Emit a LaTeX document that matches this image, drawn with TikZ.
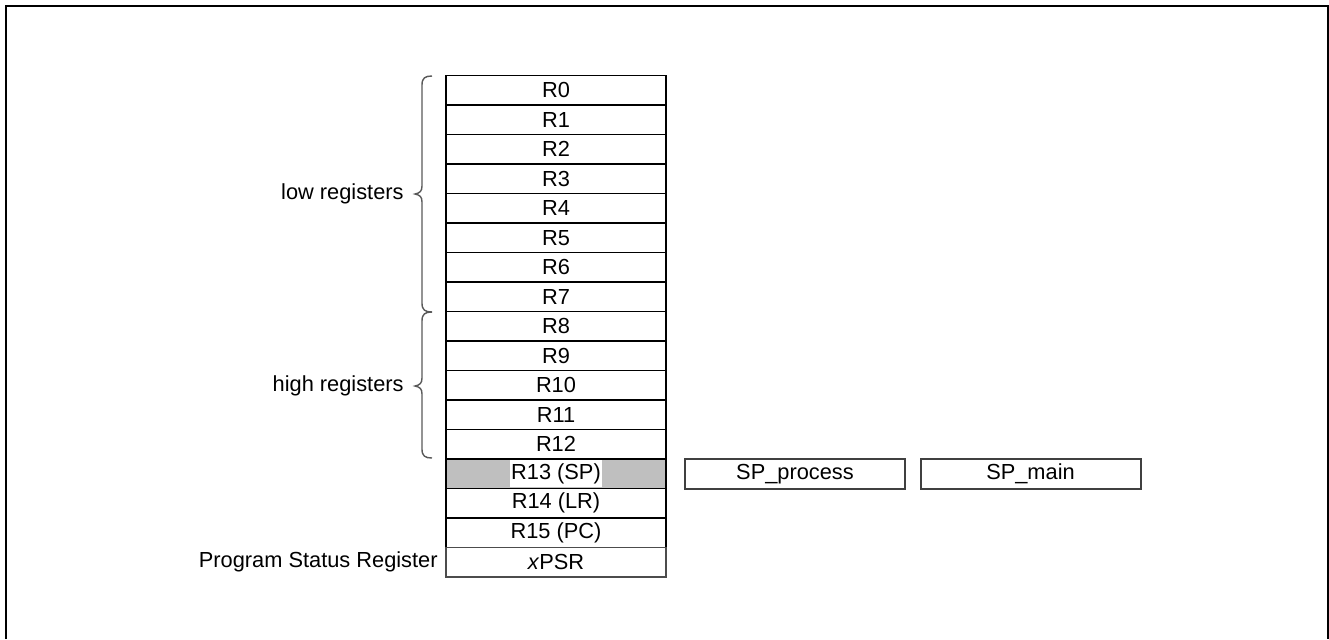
\documentclass[tikz,border=0pt]{standalone}
\usepackage{fontspec}
\setmainfont{Liberation Sans}
\begin{document}
\begin{tikzpicture}[x=0.5pt,y=-0.5pt,
  font=\fontsize{10.9pt}{13pt}\selectfont,
  reg/.style={draw=black, line width=0.75pt, minimum width=110pt, minimum height=14.75pt, inner sep=0pt, outer sep=0pt},
  spbox/.style={draw=black!75, line width=1pt, minimum width=110pt, minimum height=15pt, inner sep=0pt, outer sep=0pt},
  bracestyle/.style={draw=black!65, line width=0.7pt},
  lbl/.style={anchor=east, inner sep=0pt}]
\useasboundingbox (0,0) rectangle (1329,639);
\draw[line width=1pt] (5.5,639) -- (5.5,6) -- (1327.5,6) -- (1327.5,639);
% registers
\node[reg] (r0)  at (556,90.25)  {R0};
\node[reg] (r1)  at (556,119.75) {R1};
\node[reg] (r2)  at (556,149.25) {R2};
\node[reg] (r3)  at (556,178.75) {R3};
\node[reg] (r4)  at (556,208.25) {R4};
\node[reg] (r5)  at (556,237.75) {R5};
\node[reg] (r6)  at (556,267.25) {R6};
\node[reg] (r7)  at (556,296.75) {R7};
\node[reg] (r8)  at (556,326.25) {R8};
\node[reg] (r9)  at (556,355.75) {R9};
\node[reg] (r10) at (556,385.25) {R10};
\node[reg] (r11) at (556,414.75) {R11};
\node[reg] (r12) at (556,444.25) {R12};
\node[reg, fill=black!25] (r13) at (556,473.75) {};
\node[fill=white, inner xsep=0.6pt, inner ysep=0pt, minimum height=13.6pt] (r13t) at (r13.center) {R13 (SP)};
\node[reg] (r14) at (556,503.25) {R14 (LR)};
\node[reg] (r15) at (556,532.75) {R15 (PC)};
\node[reg, draw=black!70] (psr) at (556,562.25) {\textit{x}PSR};
% banked stack pointers
\node[spbox] (spp) at (795,474) {SP\_process};
\node[spbox] (spm) at (1030.5,474) {SP\_main};
% braces
\draw[bracestyle] (432,76) .. controls (425,76) and (422,78) .. (422,85) -- (422,186)
  .. controls (422,191) and (420,193) .. (415,194)
  .. controls (420,195) and (422,197) .. (422,202) -- (422,303)
  .. controls (422,310) and (425,312) .. (432,312);
\draw[bracestyle] (432,312) .. controls (425,312) and (422,314) .. (422,321) -- (422,378)
  .. controls (422,383) and (420,385) .. (415,386)
  .. controls (420,387) and (422,389) .. (422,394) -- (422,449)
  .. controls (422,456) and (425,458) .. (432,458);
% labels
\node[lbl] (lowl) at (404,194) {low registers};
\node[lbl] (highl) at (404,386) {high registers};
\node[lbl] (psrl) at (438,562) {Program Status Register};
\end{tikzpicture}
\end{document}
